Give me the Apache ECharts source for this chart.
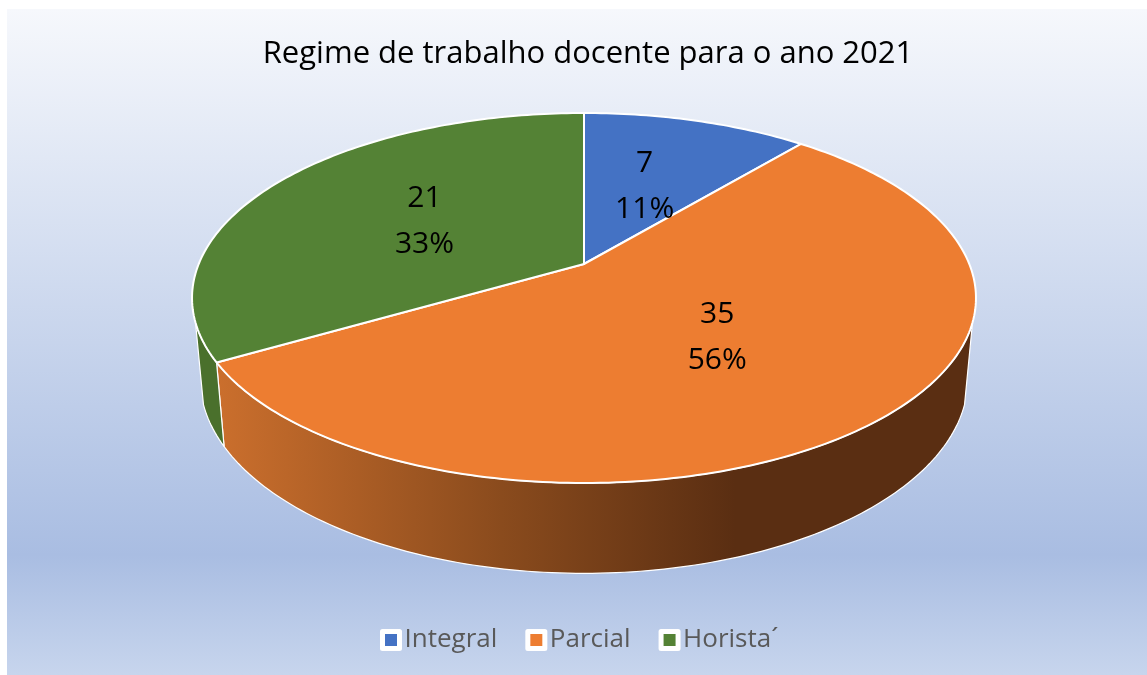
<!DOCTYPE html>
<html>
<head>
<meta charset="utf-8">
<style>
  html, body { margin: 0; padding: 0; background: #fff; }
  #main { width: 1147px; height: 675px; }
</style>
<script src="https://cdn.jsdelivr.net/npm/echarts@6/dist/echarts.min.js"></script>
</head>
<body>
<div id="main"></div>
<script>
var categories = ['Integral', 'Parcial', 'Horista´'];
var values = [7, 35, 21];
var percents = ['11%', '56%', '33%'];
var colors = ['#4472c4', '#ed7d31', '#548235'];

var total = values.reduce(function (a, b) { return a + b; }, 0);
var FONT = '"Open Sans", sans-serif';

// pie tilted in perspective: top and bottom faces share the same foreshortening
var K = 0.1838;
var TOP = { cx: 584, cy: 264, a: 385.3, b: 178.75 };
var BOTTOM = { cx: 584, cy: 343, a: 377.4, b: 188 };
// only this part of the rim faces the viewer (degrees clockwise from 12 o'clock)
var RIM_FROM = 108;
var RIM_TO = 252;

function project(face, deg, r) {
  var t = deg * Math.PI / 180;
  var u = r * Math.sin(t);
  var v = r * Math.cos(t);
  var w = 1 + K * v;
  return [face.cx + face.a * u / w, face.cy - face.b * v / w];
}

function arc(face, from, to) {
  var pts = [];
  var n = Math.max(2, Math.ceil(Math.abs(to - from)));
  for (var i = 0; i <= n; i++) {
    pts.push(project(face, from + (to - from) * i / n, 1));
  }
  return pts;
}

var rimFill = [
  colors[0],
  {
    type: 'linear', global: true, x: 216, y: 0, x2: 735, y2: 0,
    colorStops: [
      { offset: 0, color: '#cb6f2d' },
      { offset: 0.55, color: '#8a4b1d' },
      { offset: 1, color: '#5a2e12' }
    ]
  },
  '#4a702c'
];

function renderSlice(index) {
  return function (params, api) {
    var start = api.value(0) / total * 360;
    var end = start + api.value(1) / total * 360;
    var mid = (start + end) / 2;
    var children = [];

    var rimA = Math.max(start, RIM_FROM);
    var rimB = Math.min(end, RIM_TO);
    if (rimB > rimA) {
      children.push({
        type: 'polygon',
        shape: { points: arc(BOTTOM, rimA, rimB).concat(arc(TOP, rimB, rimA)) },
        style: { fill: rimFill[index], stroke: '#fff', lineWidth: 1.2, lineJoin: 'round' }
      });
    }

    children.push({
      type: 'polygon',
      shape: { points: [project(TOP, 0, 0)].concat(arc(TOP, start, end)) },
      style: { fill: colors[index], stroke: '#fff', lineWidth: 2, lineJoin: 'round' }
    });

    var at = project(TOP, mid, 0.5);
    children.push({
      type: 'text',
      x: at[0],
      y: at[1],
      z2: 10,
      style: {
        text: api.value(1) + '\n' + percents[index],
        fill: '#000',
        font: '30px ' + FONT,
        lineHeight: 46,
        align: 'center',
        verticalAlign: 'middle'
      }
    });

    return { type: 'group', children: children };
  };
}

var running = 0;
var series = categories.map(function (name, i) {
  var s = {
    type: 'custom',
    name: name,
    coordinateSystem: 'none',
    itemStyle: { color: colors[i] },
    silent: true,
    animation: false,
    renderItem: renderSlice(i),
    data: [[running, values[i]]]
  };
  running += values[i];
  return s;
});

var chart = echarts.init(document.getElementById('main'), null, { renderer: 'canvas' });
chart.setOption({
  animation: false,
  graphic: [{
    type: 'rect',
    z: -100,
    silent: true,
    shape: { x: 7, y: 9, width: 1140, height: 666 },
    style: {
      fill: {
        type: 'linear', x: 0, y: 0, x2: 0, y2: 1,
        colorStops: [
          { offset: 0, color: '#f6f8fc' },
          { offset: 0.82, color: '#a9bde2' },
          { offset: 1, color: '#c7d5ed' }
        ]
      }
    }
  }],
  title: {
    text: 'Regime de trabalho docente para o ano 2021',
    left: 583,
    top: 34,
    textAlign: 'center',
    textStyle: { color: '#000', fontFamily: FONT, fontWeight: 'normal', fontSize: 31 }
  },
  legend: {
    data: categories,
    left: 375,
    top: 622,
    icon: 'rect',
    itemWidth: 17,
    itemHeight: 17,
    itemGap: 28,
    selectedMode: false,
    itemStyle: { borderColor: '#fff', borderWidth: 5, borderJoin: 'round' },
    textStyle: { color: '#595959', fontFamily: FONT, fontSize: 26, padding: [0, 0, 0, 0] }
  },
  series: series
});
</script>
</body>
</html>
